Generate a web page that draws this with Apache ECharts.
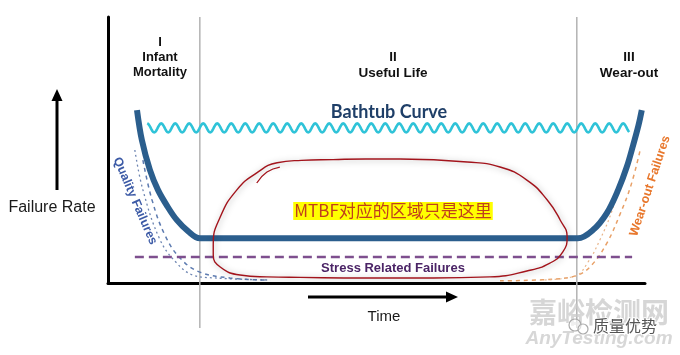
<!DOCTYPE html>
<html>
<head>
<meta charset="utf-8">
<script src="https://cdn.jsdelivr.net/npm/echarts@6/dist/echarts.min.js"></script>
<style>
html,body{margin:0;padding:0;background:#fff;}
#chart{width:680px;height:355px;}
</style>
</head>
<body>
<div id="chart"></div>
<script>
// time axis and failure-rate axis both run 0..100 (no units shown)
const phaseBounds = [17.1, 87.3];
const phaseLabels = ['I\nInfant\nMortality', 'II\nUseful Life', 'III\nWear-out'];

// the bathtub curve itself
const bathtubX = [5.4, 6.3, 7.8, 9.3, 11.0, 12.8, 14.9, 17.1, 20, 35, 50, 65, 80, 87.5, 90.3, 92.9, 95.0, 96.6, 97.8, 98.8, 99.4];
const bathtubY = [65.0, 53.8, 42.5, 35.0, 29.0, 23.7, 19.5, 16.8, 16.8, 16.8, 16.8, 16.8, 16.8, 16.8, 19.9, 26.3, 35.0, 43.6, 51.9, 59.4, 65.0];

// wavy reference line: start, end, level
const waveLine = [7.3, 97.2, 58.3];

// quality failures (two dotted curves)
const qualityAX = [5.0, 6.5, 9.7, 12.8, 15.8, 19.9, 30.2];
const qualityAY = [50.0, 35.0, 16.2, 7.5, 3.0, 1.9, 1.1];
const qualityBX = [6.5, 8.2, 10.6, 13.4, 17.1, 22.7, 29.2];
const qualityBY = [46.2, 31.2, 18.0, 9.4, 4.1, 1.9, 1.1];

// wear-out failures (two dashed curves)
const wearAX = [73.0, 83.2, 87.5, 90.1, 92.9, 95.3, 97.4, 99.1];
const wearAY = [0.8, 1.5, 3.0, 6.8, 15.0, 25.6, 36.8, 50.0];
const wearBX = [80.4, 87.0, 89.4, 91.6, 93.9, 95.7];
const wearBY = [1.1, 2.6, 7.9, 16.2, 27.4, 40.6];

// stress related failures (flat)
const stressX = [5.0, 97.6];
const stressY = [9.8, 9.8];

// hand-drawn loop around the useful-life region
const loopX = [54.4, 66.9, 73.0, 78.0, 81.8, 84.2, 85.5, 84.7, 82.3, 78.0, 71.1, 60.5, 48.2, 35.8, 29.6, 24.6, 20.9, 19.6, 19.6, 20.9, 24.0, 27.7, 31.5, 36.0, 41.9, 48.0, 54.4];
const loopY = [46.6, 45.5, 43.6, 38.7, 31.2, 23.7, 17.3, 11.7, 7.5, 4.5, 2.3, 1.9, 1.9, 2.1, 2.3, 3.0, 6.0, 10.5, 14.5, 24.8, 35.0, 41.4, 45.2, 46.1, 46.4, 46.6, 46.6];
const hookX = [27.7, 29.6, 32.0];
const hookY = [37.6, 41.7, 43.6];

const zip = (xs, ys) => xs.map((x, i) => [x, ys[i]]);

const chart = echarts.init(document.getElementById('chart'));

const txt = (x, y, text, font, fill, extra) => ({
  type: 'text', x: x, y: y, z: 50,
  style: Object.assign({ text: text, font: font, fill: fill, align: 'center', verticalAlign: 'middle' }, extra || {})
});

const option = {
  animation: false,
  backgroundColor: '#fff',
  grid: { left: 108, right: 35, top: 17, bottom: 72 },
  xAxis: {
    type: 'value', min: 0, max: 100,
    axisLine: { show: true, onZero: false, lineStyle: { color: '#000', width: 3 } },
    axisTick: { show: false }, axisLabel: { show: false }, splitLine: { show: false }
  },
  yAxis: {
    type: 'value', min: 0, max: 100,
    axisLine: { show: true, onZero: false, lineStyle: { color: '#000', width: 3 } },
    axisTick: { show: false }, axisLabel: { show: false }, splitLine: { show: false }
  },
  series: [
    {
      type: 'custom', name: 'phases', clip: false, silent: true, z: 1,
      data: phaseBounds.map(x => [x]),
      renderItem: (params, api) => {
        const top = api.coord([api.value(0), 100]);
        const bot = api.coord([api.value(0), 0]);
        return {
          type: 'line',
          shape: { x1: top[0], y1: top[1], x2: bot[0], y2: bot[1] + 45 },
          style: { stroke: '#b3b3b3', lineWidth: 1.5 }
        };
      }
    },
    {
      type: 'custom', name: 'wave', silent: true, z: 3,
      data: [waveLine],
      renderItem: (params, api) => {
        const p0 = api.coord([api.value(0), api.value(2)]);
        const p1 = api.coord([api.value(1), api.value(2)]);
        const pts = [];
        for (let x = p0[0]; x <= p1[0]; x += 1) {
          pts.push([x, p0[1] - 4.5 * Math.cos((x - p0[0]) / 14 * 2 * Math.PI)]);
        }
        return {
          type: 'polyline', shape: { points: pts },
          style: { stroke: '#2fc3d8', lineWidth: 2.6, fill: null }
        };
      }
    },
    {
      type: 'line', name: 'Quality Failures A', data: zip(qualityAX, qualityAY),
      smooth: 0.4, symbol: 'none', z: 2,
      lineStyle: { color: '#6f86b2', width: 1.3, type: [2, 3] }
    },
    {
      type: 'line', name: 'Quality Failures B', data: zip(qualityBX, qualityBY),
      smooth: 0.4, symbol: 'none', z: 2,
      lineStyle: { color: '#5d7bb0', width: 1.5, type: [4, 4] }
    },
    {
      type: 'line', name: 'Wear-out Failures A', data: zip(wearAX, wearAY),
      smooth: 0.4, symbol: 'none', z: 2,
      lineStyle: { color: '#e8a067', width: 1.5, type: [4, 4] }
    },
    {
      type: 'line', name: 'Wear-out Failures B', data: zip(wearBX, wearBY),
      smooth: 0.4, symbol: 'none', z: 2,
      lineStyle: { color: '#e9b58a', width: 1.2, type: [2, 3] }
    },
    {
      type: 'line', name: 'Stress Related Failures', data: zip(stressX, stressY),
      symbol: 'none', z: 2,
      lineStyle: { color: '#7e4f8e', width: 2.5, type: [9, 5] }
    },
    {
      type: 'line', name: 'Bathtub Curve', data: zip(bathtubX, bathtubY),
      smooth: 0.35, symbol: 'none', z: 4,
      lineStyle: { color: '#2b5e8d', width: 6 }
    },
    {
      type: 'line', name: 'loop', data: zip(loopX, loopY),
      smooth: 0.5, symbol: 'none', z: 5,
      lineStyle: { color: '#a3141c', width: 1.4, shadowColor: 'rgba(0,0,0,0.35)', shadowBlur: 6, shadowOffsetX: 1, shadowOffsetY: 1 }
    },
    {
      type: 'line', name: 'hook', data: zip(hookX, hookY),
      smooth: 0.5, symbol: 'none', z: 5,
      lineStyle: { color: '#a3141c', width: 1.3 }
    }
  ],
  graphic: [
    txt(160, 35, phaseLabels[0], 'bold 13px "Liberation Sans", Arial', '#111', { verticalAlign: 'top', lineHeight: 15 }),
    txt(393, 50, phaseLabels[1], 'bold 13.5px "Liberation Sans", Arial', '#111', { verticalAlign: 'top', lineHeight: 15.5 }),
    txt(629, 50, phaseLabels[2], 'bold 13.5px "Liberation Sans", Arial', '#111', { verticalAlign: 'top', lineHeight: 15.5 }),
    txt(389, 112, 'Bathtub Curve', 'bold 18px Lato, "Open Sans"', '#1f3f68'),
    txt(393, 211, 'MTBF对应的区域只是这里', '17px "Noto Sans CJK SC"', '#c0401c', { backgroundColor: '#ffff00', padding: [1, 1, 0, 1] }),
    txt(393, 268, 'Stress Related Failures', 'bold 13px "Liberation Sans", Arial', '#4b2466'),
    { type: 'text', x: 135, y: 201, rotation: -66.7 * Math.PI / 180, z: 50,
      style: { text: 'Quality Failures', font: 'bold 12.5px "Liberation Sans", Arial', fill: '#3c5aa6', align: 'center', verticalAlign: 'middle' } },
    { type: 'text', x: 650, y: 186, rotation: 71.6 * Math.PI / 180, z: 50,
      style: { text: 'Wear-out Failures', font: 'bold 12.5px "Liberation Sans", Arial', fill: '#e8772c', align: 'center', verticalAlign: 'middle' } },
    // axis arrows and titles
    { type: 'line', shape: { x1: 57, y1: 190, x2: 57, y2: 98 }, style: { stroke: '#000', lineWidth: 3 } },
    { type: 'polygon', shape: { points: [[57, 89], [51.5, 101], [62.5, 101]] }, style: { fill: '#000' } },
    txt(52, 208, 'Failure Rate', '16px "Liberation Sans", Arial', '#1a1a1a'),
    { type: 'line', shape: { x1: 308, y1: 297, x2: 448, y2: 297 }, style: { stroke: '#000', lineWidth: 3 } },
    { type: 'polygon', shape: { points: [[458, 297], [446, 291.5], [446, 302.5]] }, style: { fill: '#000' } },
    txt(384, 317, 'Time', '15px "Liberation Sans", Arial', '#1a1a1a'),
    // watermark
    txt(599, 312, '嘉峪检测网', 'bold 28px "Noto Sans CJK SC"', 'rgba(200,200,200,0.75)'),
    txt(599, 339, 'AnyTesting.com', 'italic bold 19px "Liberation Sans", Arial', 'rgba(205,205,205,0.8)'),
    { type: 'circle', shape: { cx: 575, cy: 325, r: 6 }, style: { fill: 'rgba(255,255,255,0.6)', stroke: '#aaa', lineWidth: 1.2 }, z: 51 },
    { type: 'circle', shape: { cx: 583, cy: 329, r: 5 }, style: { fill: 'rgba(255,255,255,0.6)', stroke: '#aaa', lineWidth: 1.2 }, z: 51 },
    txt(625, 326, '质量优势', '16px "Noto Sans CJK SC"', '#555', { stroke: '#fff', lineWidth: 2 })
  ]
};

chart.setOption(option);
</script>
</body>
</html>
